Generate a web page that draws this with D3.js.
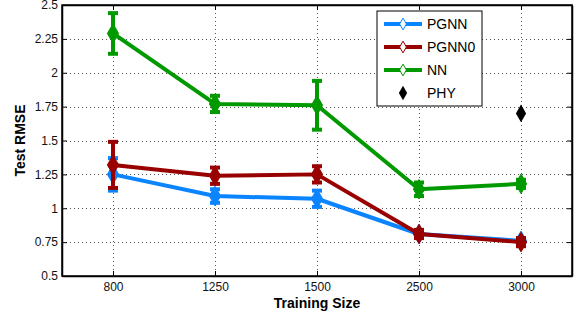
<!DOCTYPE html>
<html>
<head>
<meta charset="utf-8">
<script src="https://cdn.jsdelivr.net/npm/d3@7"></script>
<style>
  body { margin: 0; background: #fff; }
  svg { font-family: "Liberation Sans", Arial, sans-serif; }
</style>
</head>
<body>
<svg id="chart" width="577" height="316"></svg>
<script>
// Training sizes (categories)
const sizes = ['800', '1250', '1500', '2500', '3000'];

// Mean RMSE per model
const pgnn  = [1.25, 1.09, 1.07, 0.81, 0.76];
const pgnn0 = [1.32, 1.24, 1.25, 0.81, 0.75];
const nn    = [2.29, 1.77, 1.76, 1.14, 1.18];

// Error bar half-widths
const pgnnErr  = [0.12, 0.05, 0.06, 0.03, 0.02];
const pgnn0Err = [0.17, 0.06, 0.06, 0.03, 0.03];
const nnErr    = [0.15, 0.06, 0.18, 0.05, 0.03];

// Physics model, only at 3000
const phySize = '3000';
const phyValue = 1.70;

const yTicks = [0.5, 0.75, 1, 1.25, 1.5, 1.75, 2, 2.25, 2.5];

const series = [
  { name: 'PGNN',  values: pgnn,  errs: pgnnErr,  color: '#0a84ff' },
  { name: 'PGNN0', values: pgnn0, errs: pgnn0Err, color: '#990000' },
  { name: 'NN',    values: nn,    errs: nnErr,    color: '#009900' }
];

const svg = d3.select('#chart');
const mLeft = 62, mRight = 572, mTop = 5, mBottom = 276;

// Category positions with half a step of padding at each end
const x = d3.scalePoint().domain(sizes).range([mLeft, mRight]).padding(0.5);
const y = d3.scaleLinear().domain([0.5, 2.5]).range([mBottom, mTop]);

// Grid (dotted)
const grid = svg.append('g').attr('stroke', '#555').attr('stroke-width', 1)
  .attr('stroke-dasharray', '1,3');
yTicks.slice(1, -1).forEach(t => {
  grid.append('line').attr('x1', mLeft).attr('x2', mRight)
    .attr('y1', Math.round(y(t)) + 0.5).attr('y2', Math.round(y(t)) + 0.5);
});
sizes.forEach(s => {
  grid.append('line').attr('x1', Math.round(x(s)) + 0.5).attr('x2', Math.round(x(s)) + 0.5)
    .attr('y1', mTop).attr('y2', mBottom);
});

// Axes with inward ticks (MATLAB style)
const yAxis = d3.axisLeft(y).tickValues(yTicks).tickSizeInner(-5).tickSizeOuter(0).tickPadding(4)
  .tickFormat(d => d3.format('')(d));
const xAxis = d3.axisBottom(x).tickSizeInner(-5).tickSizeOuter(0).tickPadding(6);

svg.append('g').attr('transform', `translate(${mLeft},0)`).call(yAxis);
svg.append('g').attr('transform', `translate(${mRight},0)`)
  .call(d3.axisRight(y).tickValues(yTicks).tickSizeInner(-5).tickSizeOuter(0).tickFormat(''));
svg.append('g').attr('transform', `translate(0,${mBottom})`).call(xAxis);
svg.append('g').attr('transform', `translate(0,${mTop})`)
  .call(d3.axisTop(x).tickSizeInner(-5).tickSizeOuter(0).tickFormat(''));

svg.selectAll('.domain').attr('stroke', '#000').attr('stroke-width', 1.5);
svg.selectAll('.tick line').attr('stroke', '#000');
svg.selectAll('.tick text').attr('font-size', 12).attr('fill', '#111')
  .attr('font-family', '"Liberation Sans", Arial, sans-serif');

svg.append('rect').attr('x', mLeft).attr('y', mTop).attr('width', mRight - mLeft)
  .attr('height', mBottom - mTop).attr('fill', 'none').attr('stroke', '#000').attr('stroke-width', 1.5);

// Axis labels
svg.append('text').attr('x', (mLeft + mRight) / 2).attr('y', 308).attr('text-anchor', 'middle')
  .attr('font-size', 14).attr('font-weight', 'bold').text('Training Size');
svg.append('text').attr('transform', `translate(25,${(mTop + mBottom) / 2}) rotate(-90)`)
  .attr('text-anchor', 'middle').attr('font-size', 14).attr('font-weight', 'bold').text('Test RMSE');

const diamond = d3.symbol().type(d3.symbolDiamond);
const line = d3.line().x((d, i) => x(sizes[i])).y(d => y(d));

series.forEach(s => {
  const g = svg.append('g');
  g.append('path').datum(s.values).attr('d', line).attr('fill', 'none')
    .attr('stroke', s.color).attr('stroke-width', 4).attr('stroke-linejoin', 'round');
  s.values.forEach((v, i) => {
    const cx = x(sizes[i]);
    const e = s.errs[i];
    g.append('line').attr('x1', cx).attr('x2', cx).attr('y1', y(v - e)).attr('y2', y(v + e))
      .attr('stroke', s.color).attr('stroke-width', 4);
    [v - e, v + e].forEach(c => {
      g.append('line').attr('x1', cx - 5).attr('x2', cx + 5).attr('y1', y(c)).attr('y2', y(c))
        .attr('stroke', s.color).attr('stroke-width', 4);
    });
    g.append('path').attr('d', diamond.size(110)()).attr('transform', `translate(${cx},${y(v)})`)
      .attr('fill', s.color).attr('stroke', s.color).attr('stroke-width', 1);
  });
});

// PHY point
svg.append('path').attr('d', diamond.size(90)())
  .attr('transform', `translate(${x(phySize)},${y(phyValue)})`).attr('fill', '#000');

// Legend
const lg = svg.append('g').attr('transform', 'translate(377,11)');
lg.append('rect').attr('width', 105).attr('height', 95).attr('fill', '#fff')
  .attr('stroke', '#000').attr('stroke-width', 1);
const legendItems = series.map(s => ({ name: s.name, color: s.color, line: true }))
  .concat([{ name: 'PHY', color: '#000', line: false }]);
legendItems.forEach((d, i) => {
  const ly = 13 + i * 23;
  if (d.line) {
    lg.append('line').attr('x1', 7).attr('x2', 45).attr('y1', ly).attr('y2', ly)
      .attr('stroke', d.color).attr('stroke-width', 4);
    lg.append('path').attr('d', diamond.size(40)()).attr('transform', `translate(26,${ly})`)
      .attr('fill', '#fff').attr('stroke', d.color).attr('stroke-width', 1);
  } else {
    lg.append('path').attr('d', diamond.size(60)()).attr('transform', `translate(26,${ly})`)
      .attr('fill', '#000');
  }
  lg.append('text').attr('x', 50).attr('y', ly + 5).attr('font-size', 14).text(d.name);
});
</script>
</body>
</html>
